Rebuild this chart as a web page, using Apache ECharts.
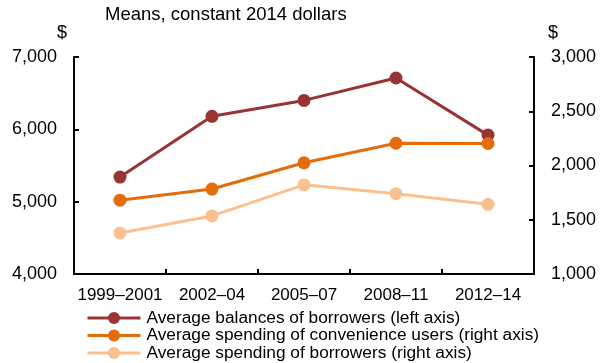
<!DOCTYPE html>
<html>
<head>
<meta charset="utf-8">
<script src="https://cdn.jsdelivr.net/npm/echarts@6/dist/echarts.min.js"></script>
<style>
  html, body { margin: 0; padding: 0; background: #fff; }
  #chart { width: 601px; height: 363px; }
</style>
</head>
<body>
<div id="chart"></div>
<script>
// Periods on the category axis
const periods = ['1999–2001', '2002–04', '2005–07', '2008–11', '2012–14'];

// Average balances of borrowers, left axis ($)
const balancesBorrowers = [5340, 6180, 6400, 6710, 5920];
// Average spending of convenience users, right axis ($)
const spendingConvenience = [1680, 1783, 2025, 2205, 2203];
// Average spending of borrowers, right axis ($)
const spendingBorrowers = [1378, 1535, 1822, 1740, 1642];

const seriesNames = [
  'Average balances of borrowers (left axis)',
  'Average spending of convenience users (right axis)',
  'Average spending of borrowers (right axis)'
];
const colors = ['#983434', '#E46C0A', '#FAC090'];

const FONT = '"Liberation Sans", Arial, sans-serif';
const TXT = '#000';

const chart = echarts.init(document.getElementById('chart'), null, { renderer: 'canvas' });

function lineSeries(name, data, color, yIndex) {
  return {
    name: name,
    type: 'line',
    yAxisIndex: yIndex,
    data: data,
    symbol: 'circle',
    symbolSize: 13,
    lineStyle: { color: color, width: 3 },
    itemStyle: { color: color },
    emphasis: { disabled: true },
    animation: false
  };
}

// One legend block per row so each row sits exactly under the previous one
function legendRow(name, top) {
  return {
    data: [name],
    left: 86,
    top: top,
    padding: 0,
    itemWidth: 53,
    itemHeight: 15,
    itemGap: 0,
    selectedMode: false,
    lineStyle: { width: 3 },
    textStyle: { fontFamily: FONT, fontSize: 17.3, color: TXT, lineHeight: 15, padding: [0, 0, 0, 1] }
  };
}

const valueAxisCommon = {
  type: 'value',
  splitLine: { show: false },
  axisLine: { show: true, lineStyle: { color: '#000', width: 2 } },
  axisTick: { show: true, inside: true, length: 5, lineStyle: { color: '#000', width: 2 } },
  axisLabel: {
    color: TXT, fontFamily: FONT, fontSize: 18, margin: 17,
    formatter: v => v.toLocaleString('en-US')
  }
};

const titleText = { fontFamily: FONT, fontWeight: 'normal', color: TXT };

chart.setOption({
  backgroundColor: '#fff',
  animation: false,
  textStyle: { fontFamily: FONT },
  title: [
    { text: 'Means, constant 2014 dollars', left: 105, top: 5, padding: 0,
      textStyle: Object.assign({ fontSize: 18.5 }, titleText) },
    { text: '$', left: 57, top: 24, padding: 0,
      textStyle: Object.assign({ fontSize: 18 }, titleText) },
    { text: '$', left: 548, top: 24, padding: 0,
      textStyle: Object.assign({ fontSize: 18 }, titleText) }
  ],
  grid: { left: 74, right: 67, top: 57, bottom: 89, containLabel: false },
  legend: [
    legendRow(seriesNames[0], 309.5),
    legendRow(seriesNames[1], 327),
    legendRow(seriesNames[2], 344.5)
  ],
  xAxis: {
    type: 'category',
    data: periods,
    boundaryGap: true,
    axisLine: { show: true, lineStyle: { color: '#000', width: 2 } },
    axisTick: { show: true, inside: true, length: 5, lineStyle: { color: '#000', width: 2 } },
    axisLabel: { color: TXT, fontFamily: FONT, fontSize: 17, margin: 13, interval: 0 }
  },
  yAxis: [
    Object.assign({}, valueAxisCommon, { min: 4000, max: 7000, interval: 1000, position: 'left' }),
    Object.assign({}, valueAxisCommon, { min: 1000, max: 3000, interval: 500, position: 'right' })
  ],
  series: [
    lineSeries(seriesNames[0], balancesBorrowers, colors[0], 0),
    lineSeries(seriesNames[1], spendingConvenience, colors[1], 1),
    lineSeries(seriesNames[2], spendingBorrowers, colors[2], 1)
  ]
});
</script>
</body>
</html>
